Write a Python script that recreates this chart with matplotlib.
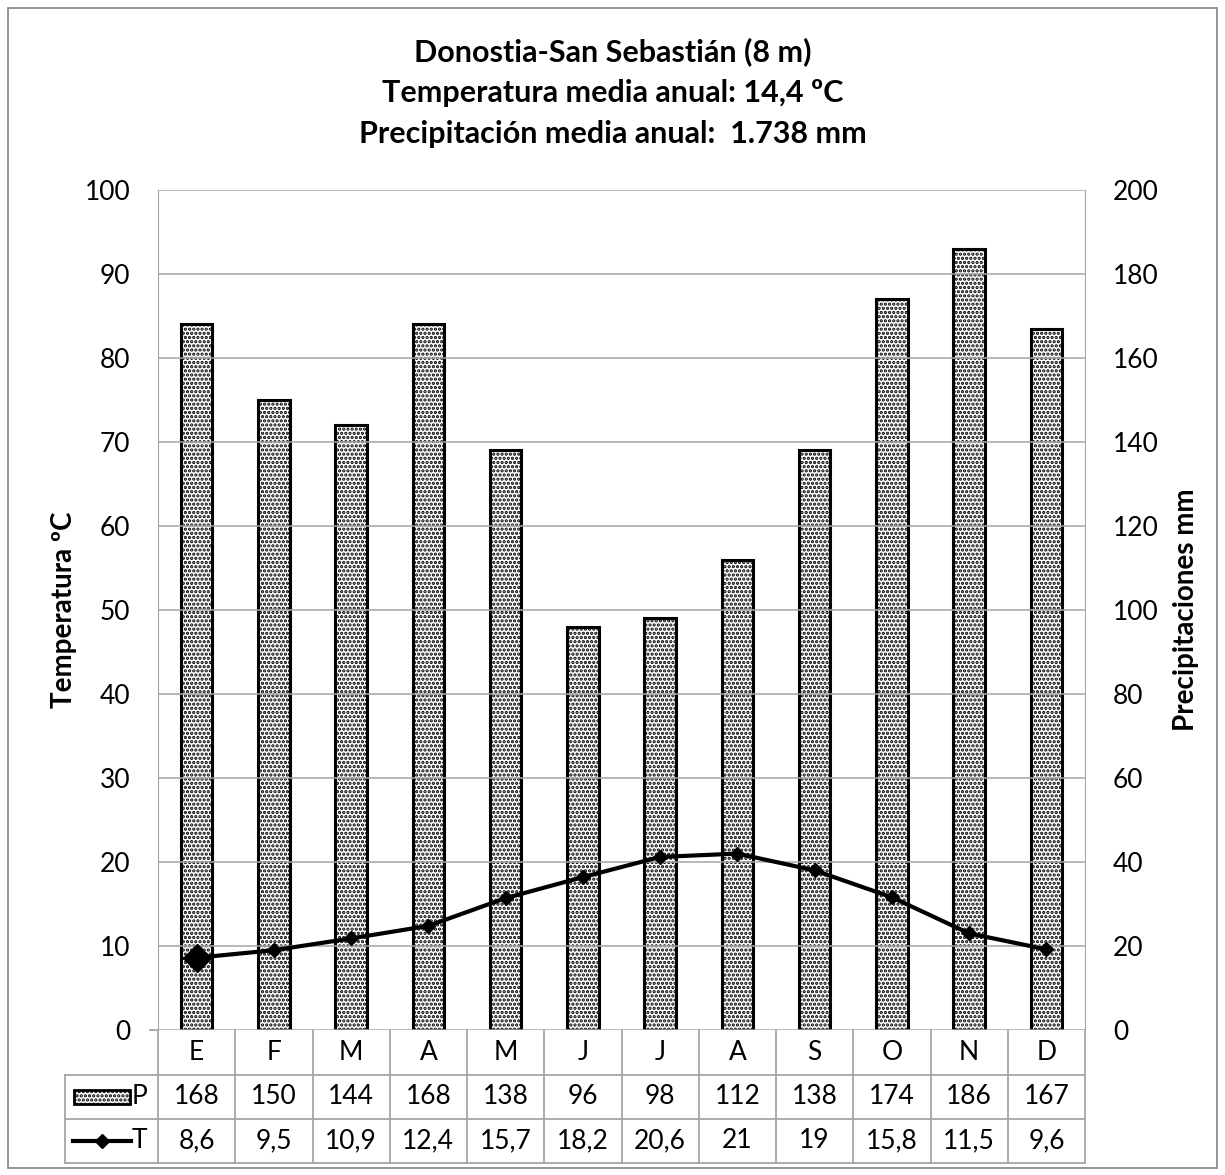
import matplotlib
matplotlib.use("Agg")
import matplotlib.pyplot as plt
from matplotlib.patches import Rectangle
from matplotlib.lines import Line2D
import matplotlib.transforms as mtransforms

months = ["E", "F", "M", "A", "M", "J", "J", "A", "S", "O", "N", "D"]
precip = [168, 150, 144, 168, 138, 96, 98, 112, 138, 174, 186, 167]
temp = [8.6, 9.5, 10.9, 12.4, 15.7, 18.2, 20.6, 21, 19, 15.8, 11.5, 9.6]
temp_labels = ["8,6", "9,5", "10,9", "12,4", "15,7", "18,2", "20,6", "21", "19", "15,8", "11,5", "9,6"]
title_lines = ["Donostia-San Sebastián (8 m)",
               "Temperatura media anual: 14,4 ºC",
               "Precipitación media anual:  1.738 mm"]

plt.rcParams['font.family'] = ['Lato', 'DejaVu Sans']
plt.rcParams['hatch.linewidth'] = 1.6

W, H = 1225, 1175
fig = plt.figure(figsize=(W/100, H/100), dpi=100)

def fx(px):
    return px / W
def fy(py):
    return 1 - py / H

left, right, top, bottom = 158, 1085, 190, 1030
ax = fig.add_axes([fx(left), fy(bottom), fx(right) - fx(left), fy(top) - fy(bottom)])
ax2 = ax.twinx()

x = list(range(12))
gridc = "#a6a6a6"
FS = 19

ax.set_xlim(-0.5, 11.5)
ax.set_ylim(0, 100)
ax2.set_ylim(0, 200)
ax.set_yticks(range(0, 101, 10))
ax2.set_yticks(range(0, 201, 20))
ax.set_xticks([])
ax.yaxis.grid(True, color=gridc, linewidth=1.1)
ax.set_axisbelow(True)
for a in (ax, ax2):
    for s in a.spines.values():
        s.set_visible(False)
ax.spines['left'].set_visible(True)
ax.spines['left'].set_color(gridc)
ax2.spines['right'].set_visible(True)
ax2.spines['right'].set_color(gridc)
ax.tick_params(axis='y', length=0, labelsize=FS, pad=20)
ax2.tick_params(axis='y', length=0, labelsize=FS, pad=20)
ax.set_ylabel("Temperatura ºC", fontsize=20, fontweight='bold')
ax2.set_ylabel("Precipitaciones mm", fontsize=20, fontweight='bold')
ax.yaxis.set_label_coords((77 - left) / (right - left), 0.5)
ax2.yaxis.set_label_coords((1173 - left) / (right - left), 0.5)

ax2.set_zorder(1)
ax.set_zorder(2)
ax.patch.set_visible(False)
ax2.bar(x, precip, width=0.41, facecolor="white", edgecolor="black",
        linewidth=2.2, hatch="....", zorder=2)
ax.plot(x, temp, color="black", linewidth=3, marker="D", markersize=7, zorder=5)
ax.plot(x[:1], temp[:1], color="black", marker="D", markersize=14, linestyle="none", zorder=6)

# Table
trans = mtransforms.blended_transform_factory(ax.transData, fig.transFigure)
row_edges = [1030, 1075, 1119, 1163]
tc = "#a6a6a6"
for i in range(13):
    xb = i - 0.5
    fig.add_artist(Line2D([xb, xb], [fy(1030), fy(1163)], transform=trans, color=tc, linewidth=1.3))
for yy in row_edges[1:]:
    fig.add_artist(Line2D([fx(65), fx(right)], [fy(yy), fy(yy)], color=tc, linewidth=1.3))
fig.add_artist(Line2D([fx(65), fx(65)], [fy(1075), fy(1163)], color=tc, linewidth=1.3))
fig.add_artist(Line2D([fx(150), fx(left)], [fy(1030), fy(1030)], color=tc, linewidth=1.3))

for i, m in enumerate(months):
    fig.add_artist(plt.Text(i, fy(1053), m, transform=trans, fontsize=FS, ha="center", va="center"))
    fig.add_artist(plt.Text(i, fy(1097), str(precip[i]), transform=trans, fontsize=FS, ha="center", va="center"))
    fig.add_artist(plt.Text(i, fy(1141), temp_labels[i], transform=trans, fontsize=FS, ha="center", va="center"))

# legend keys in table
fig.add_artist(Rectangle((fx(74), fy(1104)), fx(130) - fx(74), fy(1090) - fy(1104),
                         facecolor="white", edgecolor="black", linewidth=2, hatch="....",
                         transform=fig.transFigure))
fig.text(fx(132), fy(1097), "P", fontsize=FS, ha="left", va="center")
fig.add_artist(Line2D([fx(73), fx(131)], [fy(1141), fy(1141)], color="black", linewidth=3))
fig.add_artist(Line2D([fx(102)], [fy(1141)], color="black", marker="D", markersize=7))
fig.text(fx(132), fy(1141), "T", fontsize=FS, ha="left", va="center")

# Title
for txt, yy in zip(title_lines, [61, 102, 143]):
    fig.text(0.5, fy(yy), txt, fontsize=22, fontweight="bold", ha="center", va="baseline")

# outer border
fig.add_artist(Rectangle((fx(8), fy(1168)), fx(1217) - fx(8), fy(8) - fy(1168),
                         fill=False, edgecolor="#8c8c8c", linewidth=1.3, transform=fig.transFigure))

fig.savefig("out.png", dpi=100)
